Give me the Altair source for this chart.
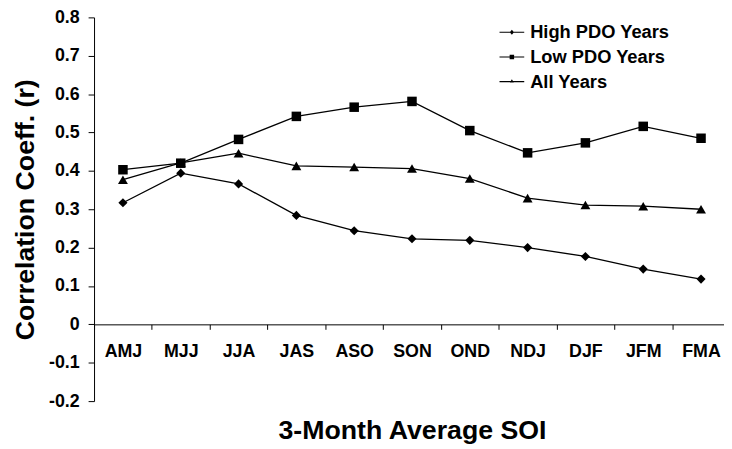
import altair as alt
import pandas as pd

categories = ["AMJ", "MJJ", "JJA", "JAS", "ASO", "SON", "OND", "NDJ", "DJF", "JFM", "FMA"]
high_pdo = [0.317, 0.394, 0.366, 0.284, 0.244, 0.223, 0.219, 0.200, 0.177, 0.144, 0.118]
low_pdo = [0.403, 0.420, 0.482, 0.542, 0.566, 0.581, 0.505, 0.447, 0.473, 0.516, 0.485]
all_years = [0.377, 0.421, 0.446, 0.413, 0.410, 0.406, 0.380, 0.329, 0.311, 0.308, 0.300]
series_names = ["High PDO Years", "Low PDO Years", "All Years"]
marker_keys = ["High", "Low", "All"]
marker_shapes = ["diamond", "square", "triangle-up"]
marker_sizes = [85, 100, 50]
# legend glyphs: a short line with the series marker on it (unit box -1..1)
legend_glyphs = [
    "M-1,-0.045H1V0.045H-1ZM0,-0.2L0.17,0L0,0.2L-0.17,0Z",
    "M-1,-0.045H1V0.045H-1ZM-0.18,-0.18H0.18V0.18H-0.18Z",
    "M-1,-0.045H1V0.045H-1ZM0,-0.2L0.16,0.07H-0.16Z",
]
y_ticks = [-0.2, -0.1, 0, 0.1, 0.2, 0.3, 0.4, 0.5, 0.6, 0.7, 0.8]

rows = []
for name, key, vals in zip(series_names, marker_keys, [high_pdo, low_pdo, all_years]):
    for c, v in zip(categories, vals):
        rows.append({"season": c, "r": v, "series": name, "marker": key})
df = pd.DataFrame(rows)

FONT = "Liberation Sans"

x = alt.X(
    "season:N",
    sort=categories,
    scale=alt.Scale(type="band", paddingInner=0, paddingOuter=0, range=[0, 643]),
    axis=alt.Axis(
        title="3-Month Average SOI",
        orient="bottom",
        offset=-77.6,
        tickBand="extent",
        labelAngle=0,
        labelFont=FONT,
        labelFontSize=18,
        labelFontWeight="bold",
        labelColor="black",
        labelPadding=13,
        tickSize=5,
        tickColor="black",
        domainColor="black",
        titleFont=FONT,
        titleFontSize=27,
        titleFontWeight="bold",
        titleColor="black",
        titlePadding=58,
        grid=False,
    ),
)
y = alt.Y(
    "r:Q",
    scale=alt.Scale(domain=[-0.2, 0.8], nice=False, zero=False),
    axis=alt.Axis(
        title="Correlation Coeff. (r)",
        values=y_ticks,
        labelExpr="datum.value == 0 ? '0' : (datum.value < 0 ? '-' : '') + format(abs(datum.value), '.1f')",
        labelFont=FONT,
        labelFontSize=18,
        labelFontWeight="bold",
        labelColor="black",
        labelPadding=9,
        tickSize=6,
        tickColor="black",
        domainColor="black",
        titleFont=FONT,
        titleFontSize=27,
        titleFontWeight="bold",
        titleColor="black",
        titlePadding=9,
        grid=False,
    ),
)

lines = alt.Chart(df).mark_line(color="black", strokeWidth=1.3).encode(
    x=x,
    y=y,
    detail="series:N",
)

points = alt.Chart(df).mark_point(filled=True, color="black", opacity=1).encode(
    x=x,
    y=y,
    shape=alt.Shape(
        "marker:N",
        scale=alt.Scale(domain=marker_keys, range=marker_shapes),
        legend=None,
    ),
    size=alt.Size(
        "marker:O",
        scale=alt.Scale(domain=marker_keys, range=marker_sizes),
        legend=None,
    ),
)

# legend carrier: draws no marks, only provides the legend
legend_layer = (
    alt.Chart(df)
    .transform_filter("false")
    .mark_point(filled=True, color="black", opacity=1)
    .encode(
        shape=alt.Shape(
            "series:N",
            scale=alt.Scale(domain=series_names, range=legend_glyphs),
            legend=alt.Legend(
                title=None,
                orient="none",
                legendX=410,
                legendY=2.5,
                padding=0,
                rowPadding=3,
                symbolSize=625,
                symbolFillColor="black",
                symbolStrokeWidth=0,
                symbolOpacity=1,
                labelFont=FONT,
                labelFontSize=18.5,
                labelFontWeight="bold",
                labelColor="black",
                labelOffset=6,
            ),
        )
    )
)

chart = (
    alt.layer(lines, points, legend_layer)
    .resolve_scale(shape="independent")
    .properties(
        width=632,
        height=388,
        autosize=alt.AutoSizeParams(type="none"),
        padding={"left": 87, "top": 7, "right": 5, "bottom": 52},
        background="white",
    )
    .configure_view(stroke=None)
)

chart.save("out.html", embed_options={"renderer": "svg", "actions": False})
